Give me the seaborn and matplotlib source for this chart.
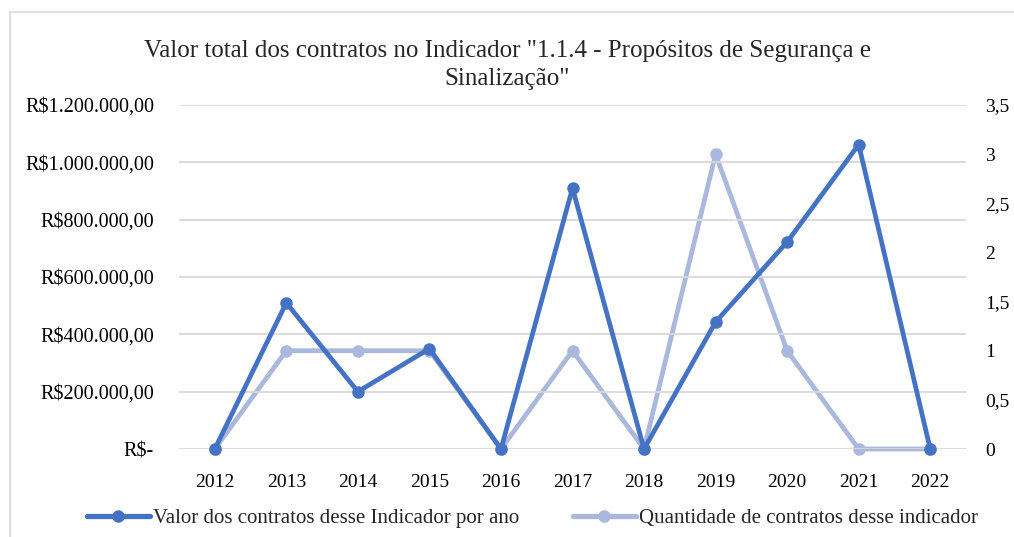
import seaborn as sns
import matplotlib.pyplot as plt
import matplotlib.ticker as ticker
from matplotlib.patches import Rectangle
from matplotlib.lines import Line2D
import pandas as pd

years = [2012, 2013, 2014, 2015, 2016, 2017, 2018, 2019, 2020, 2021, 2022]
valor = [0, 510000, 200000, 350000, 0, 910000, 0, 443000, 722000, 1062000, 0]
quantidade = [0, 1, 1, 1, 0, 1, 0, 3, 1, 0, 0]

label_valor = "Valor dos contratos desse Indicador por ano"
label_qtd = "Quantidade de contratos desse indicador"
title = 'Valor total dos contratos no Indicador "1.1.4 - Propósitos de Segurança e\nSinalização"'

dark = "#4472C4"
light = "#A9B8DC"

sns.set_style("white")
plt.rcParams['font.family'] = ['Liberation Serif', 'DejaVu Serif']

df = pd.DataFrame({'Ano': years, 'Valor': valor, 'Quantidade': quantidade})

fig = plt.figure(figsize=(10.14, 5.37), dpi=100)
ax = fig.add_axes([179 / 1014, 1 - 449 / 537, (966 - 179) / 1014, (449 - 105) / 537])
ax2 = ax.twinx()

sns.lineplot(data=df, x='Ano', y='Quantidade', ax=ax2, color=light, marker='o',
             linewidth=3.4, markersize=9, markeredgewidth=0, clip_on=False, zorder=3)
sns.lineplot(data=df, x='Ano', y='Valor', ax=ax, color=dark, marker='o',
             linewidth=3.4, markersize=9, markeredgewidth=0, clip_on=False, zorder=3)

# value line drawn over the count line
ax.set_zorder(ax2.get_zorder() + 1)
ax.patch.set_visible(False)

ax.set_xlim(2011.5, 2022.5)
ax.set_ylim(0, 1200000)
ax2.set_ylim(0, 3.5)
ax.set_xticks(years)
ax.set_xticklabels([str(y) for y in years])
ax.set_yticks(range(0, 1200001, 200000))
ax2.set_yticks([i * 0.5 for i in range(8)])


def reais(v, pos):
    if v == 0:
        return "R$-"
    return "R$" + f"{v:,.2f}".replace(",", "X").replace(".", ",").replace("X", ".")


def qtd(v, pos):
    return f"{v:g}".replace(".", ",")


ax.yaxis.set_major_formatter(ticker.FuncFormatter(reais))
ax2.yaxis.set_major_formatter(ticker.FuncFormatter(qtd))

ax.grid(axis='y', color="#D9D9D9", linewidth=1.3)
ax.grid(axis='x', visible=False)
ax2.grid(False)
for a in (ax, ax2):
    for s in a.spines.values():
        s.set_visible(False)
    a.set_xlabel("")
    a.set_ylabel("")
    if a.get_legend():
        a.get_legend().remove()

ax.tick_params(axis='y', length=0, pad=18, labelsize=14.5, colors='black')
ax.tick_params(axis='x', length=0, pad=18, labelsize=14, colors='black')
ax2.tick_params(axis='y', length=0, pad=14, labelsize=14, colors='black')

fig.text(0.5, 1 - 65 / 537, title, ha='center', va='center', fontsize=18,
         linespacing=1.4)

handles = [Line2D([], [], color=dark, marker='o', linewidth=3.8, markersize=9, markeredgewidth=0),
           Line2D([], [], color=light, marker='o', linewidth=3.8, markersize=9, markeredgewidth=0)]
fig.legend(handles, [label_valor, label_qtd], loc='center', bbox_to_anchor=(0.525, 1 - 518 / 537),
           ncol=2, frameon=False, fontsize=15, handlelength=3.0, handletextpad=0.15,
           columnspacing=2.6)

fig.add_artist(Rectangle((10 / 1014, -0.02), 1.0, 1 - 12 / 537 + 0.02, transform=fig.transFigure,
                         fill=False, edgecolor="#D9D9D9", linewidth=1.2))

plt.savefig('out.png', dpi=100)
